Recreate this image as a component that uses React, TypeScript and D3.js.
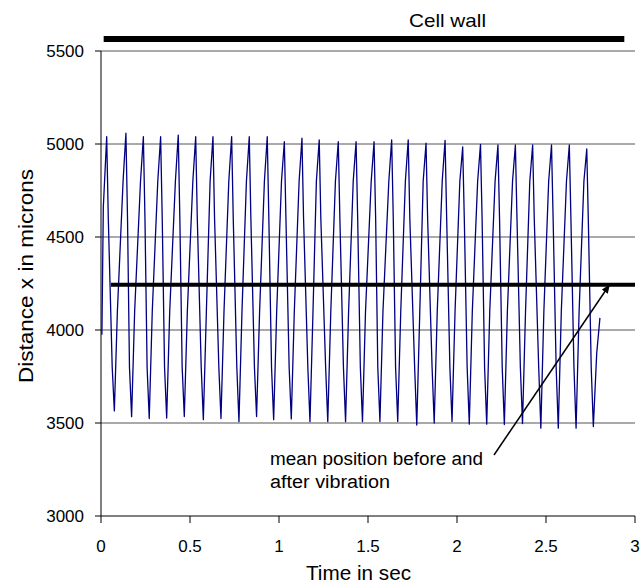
import React from "react";
import * as d3 from "d3";

// Trace of particle position: time in s
const traceTime = [
  0.005, 0.013,
  0.032, 0.041, 0.063, 0.075, 0.092, 0.124,
  0.140, 0.149, 0.160, 0.172, 0.189, 0.222,
  0.238, 0.247, 0.259, 0.271, 0.288, 0.319,
  0.335, 0.344, 0.357, 0.369, 0.386, 0.418,
  0.434, 0.443, 0.456, 0.468, 0.485, 0.516,
  0.532, 0.541, 0.563, 0.575, 0.592, 0.613,
  0.629, 0.638, 0.662, 0.674, 0.691, 0.718,
  0.734, 0.743, 0.763, 0.775, 0.792, 0.817,
  0.833, 0.842, 0.862, 0.874, 0.891, 0.918,
  0.934, 0.943, 0.958, 0.970, 0.987, 1.014,
  1.030, 1.039, 1.057, 1.069, 1.086, 1.113,
  1.129, 1.138, 1.162, 1.174, 1.191, 1.210,
  1.226, 1.235, 1.262, 1.274, 1.291, 1.317,
  1.333, 1.342, 1.362, 1.374, 1.391, 1.417,
  1.433, 1.442, 1.457, 1.469, 1.486, 1.518,
  1.534, 1.543, 1.555, 1.567, 1.584, 1.617,
  1.633, 1.642, 1.655, 1.667, 1.684, 1.710,
  1.726, 1.735, 1.762, 1.774, 1.791, 1.810,
  1.826, 1.835, 1.860, 1.872, 1.889, 1.917,
  1.933, 1.942, 1.960, 1.972, 1.989, 2.016,
  2.032, 2.041, 2.057, 2.069, 2.086, 2.116,
  2.132, 2.141, 2.155, 2.167, 2.184, 2.214,
  2.230, 2.239, 2.254, 2.266, 2.283, 2.312,
  2.328, 2.337, 2.356, 2.368, 2.385, 2.409,
  2.425, 2.434, 2.459, 2.471, 2.488, 2.515,
  2.531, 2.540, 2.557, 2.569, 2.586, 2.615,
  2.631, 2.640, 2.657, 2.669, 2.686, 2.713,
  2.729, 2.738, 2.754, 2.766, 2.785, 2.803,
];
// Distance x in microns at the same instants
const traceDistance = [
  3975, 4660,
  5039, 4600, 3800, 3565, 4100, 4800,
  5058, 4600, 3800, 3534, 4100, 4800,
  5039, 4600, 3800, 3524, 4100, 4800,
  5039, 4600, 3800, 3527, 4100, 4800,
  5048, 4600, 3800, 3535, 4100, 4800,
  5039, 4600, 3800, 3518, 4100, 4800,
  5039, 4600, 3800, 3524, 4100, 4800,
  5039, 4600, 3800, 3507, 4100, 4800,
  5039, 4600, 3800, 3535, 4100, 4800,
  5039, 4600, 3800, 3518, 4100, 4800,
  5012, 4600, 3800, 3522, 4100, 4800,
  5031, 4600, 3800, 3507, 4100, 4800,
  5022, 4600, 3800, 3507, 4100, 4800,
  5012, 4600, 3800, 3507, 4100, 4800,
  5012, 4600, 3800, 3507, 4100, 4800,
  5012, 4600, 3800, 3508, 4100, 4800,
  5022, 4600, 3800, 3508, 4100, 4800,
  5022, 4600, 3800, 3489, 4100, 4800,
  5004, 4600, 3800, 3500, 4100, 4800,
  5020, 4600, 3800, 3508, 4100, 4800,
  4984, 4600, 3800, 3494, 4100, 4800,
  4998, 4600, 3800, 3494, 4100, 4800,
  4995, 4600, 3800, 3492, 4100, 4800,
  4995, 4600, 3800, 3497, 4100, 4800,
  4995, 4600, 3800, 3472, 4100, 4800,
  4995, 4600, 3800, 3472, 4100, 4800,
  4995, 4600, 3800, 3472, 4100, 4800,
  4973, 4580, 3800, 3481, 3876, 4065,
];

const xTicks = [0, 0.5, 1, 1.5, 2, 2.5, 3];
const xTickLabels = ["0", "0.5", "1", "1.5", "2", "2.5", "3"];
const yTicks = [3000, 3500, 4000, 4500, 5000, 5500];
const yTickLabels = ["3000", "3500", "4000", "4500", "5000", "5500"];

const cellWall = { t0: 0.015, t1: 2.94, value: 5565 };
const meanLine = { t0: 0.056, t1: 3.0, value: 4243 };
const arrowFrom = { t: 2.208, value: 3328 };
const arrowTo = { t: 2.856, value: 4242 };

const W = 642;
const H = 584;
const FONT = "'Liberation Sans', Arial, Helvetica, sans-serif";

export default function App() {
  const x = d3.scaleLinear().domain([0, 3]).range([101, 635]);
  const y = d3.scaleLinear().domain([3000, 5500]).range([516, 51]);

  const pts: [number, number][] = traceTime.map((t, i) => [t, traceDistance[i]]);
  const line = d3
    .line<[number, number]>()
    .x((d) => x(d[0]))
    .y((d) => y(d[1]))
    .curve(d3.curveLinear);

  const ax = x(arrowFrom.t);
  const ay = y(arrowFrom.value);
  const bx = x(arrowTo.t);
  const by = y(arrowTo.value);

  return (
    <div style={{ position: "absolute", left: 0, top: 0 }}>
      <svg width={W} height={H} style={{ display: "block", background: "#fff" }} fontFamily={FONT}>
        <defs>
          <marker id="ah" viewBox="0 0 10 10" refX="9" refY="5" markerWidth="6" markerHeight="6" orient="auto">
            <path d="M0,1 L10,5 L0,9 z" fill="#000" />
          </marker>
        </defs>
        {yTicks.filter((v) => v > 3000).map((v) => (
          <line key={"g" + v} x1={x(0)} x2={x(3)} y1={y(v)} y2={y(v)} stroke="#555" strokeWidth={1} />
        ))}
        <line x1={x(0)} x2={x(0)} y1={y(5500)} y2={y(3000)} stroke="#000" strokeWidth={1} />
        <line x1={x(0)} x2={x(3)} y1={y(3000)} y2={y(3000)} stroke="#000" strokeWidth={1} />
        {yTicks.map((v, i) => (
          <g key={"yt" + v}>
            <line x1={x(0) - 6} x2={x(0)} y1={y(v)} y2={y(v)} stroke="#000" />
            <text x={84} y={y(v)} dy="0.35em" textAnchor="end" fontSize={17} fill="#000">
              {yTickLabels[i]}
            </text>
          </g>
        ))}
        {xTicks.map((v, i) => (
          <g key={"xt" + v}>
            <line x1={x(v)} x2={x(v)} y1={y(3000)} y2={y(3000) + 7} stroke="#000" />
            <text x={x(v)} y={552} textAnchor="middle" fontSize={17} fill="#000">
              {xTickLabels[i]}
            </text>
          </g>
        ))}
        <path d={line(pts) || ""} fill="none" stroke="#000080" strokeWidth={1.3} strokeLinejoin="round" />
        <line x1={x(meanLine.t0)} x2={x(meanLine.t1)} y1={y(meanLine.value)} y2={y(meanLine.value)} stroke="#000" strokeWidth={4} />
        <line x1={x(cellWall.t0)} x2={x(cellWall.t1)} y1={y(cellWall.value)} y2={y(cellWall.value)} stroke="#000" strokeWidth={6} />
        <text x={409} y={27} fontSize={19} textLength={77} lengthAdjust="spacingAndGlyphs" fill="#000">Cell wall</text>
        <line x1={ax} y1={ay} x2={bx} y2={by} stroke="#000" strokeWidth={1.5} markerEnd="url(#ah)" />
        <text x={270} y={465} fontSize={18} textLength={213} lengthAdjust="spacingAndGlyphs" fill="#000">mean position before and</text>
        <text x={270} y={488} fontSize={18} textLength={120} lengthAdjust="spacingAndGlyphs" fill="#000">after vibration</text>
        <text x={306} y={580} fontSize={19.5} textLength={105} lengthAdjust="spacingAndGlyphs" fill="#000">Time in sec</text>
        <text transform={`translate(33,383) rotate(-90)`} fontSize={19.5} textLength={214} lengthAdjust="spacingAndGlyphs" fill="#000">
          Distance x in microns
        </text>
      </svg>
    </div>
  );
}
